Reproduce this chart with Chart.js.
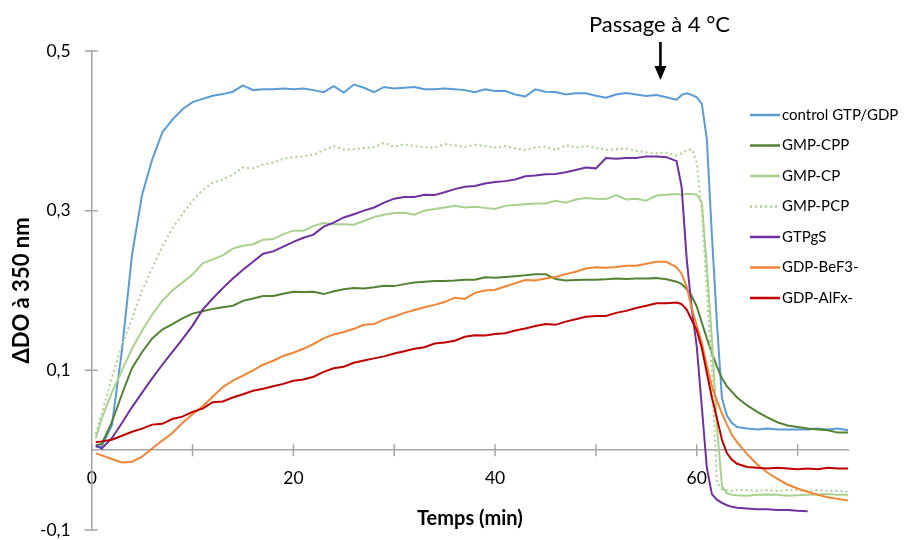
<!DOCTYPE html>
<html>
<head>
<meta charset="utf-8">
<script src="https://cdn.jsdelivr.net/npm/chart.js@4.4.0/dist/chart.umd.min.js"></script>
<style>
  html, body { margin: 0; padding: 0; background: #fff; }
</style>
</head>
<body>
<canvas id="chart" width="913" height="540"></canvas>
<script>
// Time points (min)
const times = [
  0.4, 1, 2, 3, 4, 5, 6, 7, 8, 9,
  10, 11, 12, 13, 14, 15, 16, 17, 18, 19,
  20, 21, 22, 23, 24, 25, 26, 27, 28, 29,
  30, 31, 32, 33, 34, 35, 36, 37, 38, 39,
  40, 41, 42, 43, 44, 45, 46, 47, 48, 49,
  50, 51, 52, 53, 54, 55, 56, 57, 58,
  58.5, 59, 59.5, 60, 60.5, 61, 61.5, 62, 62.5, 63, 63.5, 64,
  65, 66, 67, 68, 69, 70, 71, 72, 73, 74, 75
];

// ΔDO values per series
const controlGtpGdp = [
  0.004, 0.005, 0.031, 0.125, 0.245, 0.32, 0.364, 0.398, 0.414, 0.427,
  0.436, 0.44, 0.444, 0.446, 0.449, 0.457, 0.451, 0.452, 0.452, 0.453,
  0.452, 0.453, 0.451, 0.4485, 0.456, 0.448, 0.458, 0.454, 0.4485, 0.455,
  0.453, 0.454, 0.455, 0.452, 0.452, 0.453, 0.452, 0.451, 0.4485, 0.452,
  0.45, 0.45, 0.4456, 0.443, 0.452, 0.449, 0.4485, 0.4456, 0.447, 0.447,
  0.444, 0.4415, 0.4456, 0.4475, 0.4456, 0.4435, 0.445, 0.442, 0.439,
  0.445, 0.447, 0.445, 0.442, 0.434, 0.39, 0.27, 0.16, 0.065, 0.043, 0.034, 0.029,
  0.027, 0.026, 0.027, 0.026, 0.026, 0.026, 0.026, 0.027, 0.026, 0.027, 0.025
];
const gmpCpp = [
  0.006, 0.008, 0.035, 0.07, 0.103, 0.123, 0.14, 0.151, 0.158, 0.165,
  0.171, 0.174, 0.177, 0.179, 0.181, 0.187, 0.19, 0.193, 0.193, 0.196,
  0.1985, 0.198, 0.1985, 0.1955, 0.199, 0.2015, 0.203, 0.2025, 0.204, 0.206,
  0.2055, 0.208, 0.21, 0.211, 0.212, 0.212, 0.2125, 0.2135, 0.2135, 0.2165,
  0.216, 0.217, 0.218, 0.219, 0.2205, 0.2205, 0.2145, 0.2125, 0.213, 0.2135,
  0.2135, 0.214, 0.215, 0.2145, 0.215, 0.215, 0.2155, 0.214, 0.211,
  0.208, 0.202, 0.193, 0.18, 0.16, 0.14, 0.122, 0.105, 0.09, 0.08, 0.073, 0.066,
  0.056, 0.048, 0.041, 0.035, 0.031, 0.029, 0.027, 0.026, 0.025, 0.022, 0.022
];
const gmpCp = [
  0.015, 0.04, 0.072, 0.1, 0.127, 0.15, 0.17, 0.187, 0.2, 0.21,
  0.22, 0.234, 0.239, 0.244, 0.2525, 0.256, 0.258, 0.2635, 0.2644, 0.2706,
  0.275, 0.275, 0.281, 0.2844, 0.283, 0.283, 0.2825, 0.287, 0.292, 0.295,
  0.297, 0.2975, 0.295, 0.3, 0.302, 0.304, 0.306, 0.304, 0.305, 0.3035,
  0.302, 0.306, 0.307, 0.308, 0.309, 0.309, 0.3125, 0.31, 0.314, 0.316,
  0.315, 0.3145, 0.3195, 0.314, 0.315, 0.3125, 0.319, 0.32, 0.321,
  0.32, 0.321, 0.321, 0.32, 0.31, 0.23, 0.14, 0.03, -0.045, -0.054, -0.056, -0.0565,
  -0.057, -0.056, -0.0555, -0.056, -0.057, -0.0565, -0.056, -0.0555, -0.055, -0.056, -0.056
];
const gmpPcp = [
  0.02, 0.046, 0.09, 0.132, 0.165, 0.2, 0.228, 0.255, 0.278, 0.296,
  0.312, 0.326, 0.335, 0.339, 0.345, 0.354, 0.353, 0.358, 0.36, 0.365,
  0.367, 0.368, 0.37, 0.376, 0.381, 0.3765, 0.377, 0.3785, 0.3795, 0.385,
  0.38, 0.383, 0.381, 0.379, 0.379, 0.3835, 0.382, 0.38, 0.3825, 0.381,
  0.379, 0.381, 0.378, 0.376, 0.379, 0.38, 0.376, 0.382, 0.379, 0.381,
  0.379, 0.376, 0.377, 0.3777, 0.375, 0.373, 0.372, 0.3725, 0.369,
  0.372, 0.375, 0.377, 0.36, 0.3, 0.2, 0.1, -0.04, -0.049, -0.05, -0.051, -0.05,
  -0.05, -0.051, -0.05, -0.051, -0.05, -0.05, -0.051, -0.05, -0.051, -0.051, -0.052
];
const gtpgs = [
  0.006, 0.002, 0.015, 0.034, 0.054, 0.072, 0.09, 0.107, 0.123, 0.139,
  0.156, 0.176, 0.19, 0.203, 0.215, 0.226, 0.236, 0.246, 0.249, 0.255,
  0.261, 0.266, 0.27, 0.28, 0.285, 0.2915, 0.2956, 0.3, 0.304, 0.31,
  0.315, 0.317, 0.317, 0.32, 0.3195, 0.323, 0.327, 0.33, 0.331, 0.334,
  0.336, 0.337, 0.339, 0.343, 0.344, 0.3456, 0.346, 0.348, 0.351, 0.354,
  0.353, 0.366, 0.365, 0.366, 0.366, 0.368, 0.368, 0.367, 0.362,
  0.33, 0.24, 0.178, 0.13, 0.055, -0.022, -0.055, -0.062, -0.066, -0.069, -0.071, -0.072,
  -0.073, -0.074, -0.074, -0.075, -0.075, -0.076, -0.0765, null, null, null, null
];
const gdpBef3 = [
  -0.004, -0.0065, -0.011, -0.0155, -0.0145, -0.008, 0.002, 0.012, 0.0215, 0.034,
  0.045, 0.055, 0.067, 0.079, 0.087, 0.0935, 0.1, 0.107, 0.112, 0.118,
  0.122, 0.127, 0.133, 0.14, 0.145, 0.148, 0.152, 0.157, 0.158, 0.1635,
  0.1675, 0.172, 0.1755, 0.179, 0.182, 0.1855, 0.191, 0.1895, 0.197, 0.2,
  0.201, 0.205, 0.209, 0.213, 0.2125, 0.215, 0.217, 0.2205, 0.2235, 0.2275,
  0.229, 0.2285, 0.2295, 0.231, 0.231, 0.2335, 0.236, 0.236, 0.229,
  0.221, 0.205, 0.178, 0.156, 0.135, 0.106, 0.08, 0.062, 0.046, 0.032, 0.019, 0.01,
  -0.005, -0.018, -0.028, -0.036, -0.043, -0.048, -0.052, -0.056, -0.059, -0.061, -0.063
];
const gdpAlfx = [
  0.01, 0.011, 0.013, 0.018, 0.023, 0.027, 0.032, 0.033, 0.039, 0.042,
  0.048, 0.052, 0.06, 0.061, 0.066, 0.07, 0.0745, 0.077, 0.08, 0.083,
  0.087, 0.0885, 0.092, 0.098, 0.1025, 0.1045, 0.1095, 0.1123, 0.115, 0.1175,
  0.121, 0.124, 0.127, 0.129, 0.1335, 0.135, 0.137, 0.142, 0.144, 0.1435,
  0.1456, 0.1465, 0.1498, 0.1525, 0.1555, 0.158, 0.157, 0.161, 0.164, 0.167,
  0.168, 0.168, 0.172, 0.1745, 0.178, 0.181, 0.184, 0.184, 0.185,
  0.183, 0.176, 0.163, 0.15, 0.128, 0.097, 0.066, 0.04, 0.013, -0.004, -0.012, -0.017,
  -0.021, -0.022, -0.023, -0.022, -0.023, -0.024, -0.023, -0.024, -0.022, -0.023, -0.023
];

const seriesNames = ['control GTP/GDP', 'GMP-CPP', 'GMP-CP', 'GMP-PCP', 'GTPgS', 'GDP-BeF3-', 'GDP-AlFx-'];
const seriesValues = [controlGtpGdp, gmpCpp, gmpCp, gmpPcp, gtpgs, gdpBef3, gdpAlfx];
const seriesColors = ['#5B9BD5', '#548235', '#A9D18E', '#A9D18E', '#7030A0', '#F28534', '#C00000'];
const dottedSeries = ['GMP-PCP'];

const xTickValues = [0, 10, 20, 30, 40, 50, 60, 70];
const xLabelValues = [0, 20, 40, 60];
const yTickValues = [-0.1, 0.1, 0.3, 0.5];
const coolingTime = 56.4;
const coolingNote = 'Passage à 4 °C';

const FONT = 'Lato';
const AXIS_COLOR = '#A6A6A6';

const datasets = seriesNames.map((name, i) => ({
    label: name,
    data: times.map((t, j) => ({ x: t, y: seriesValues[i][j] })),
    borderColor: seriesColors[i],
    borderWidth: 2,
    borderDash: dottedSeries.includes(name) ? [2, 3] : [],
    pointRadius: 0,
    tension: 0,
    fill: false,
    order: seriesNames.length - i
}));

// tick marks crossing the axes, note with arrow, legend on the right
const decorPlugin = {
    id: 'decor',
    beforeDatasetsDraw(chart) {
        const { ctx, scales: { x, y } } = chart;
        const x0 = x.getPixelForValue(0);
        const y0 = y.getPixelForValue(0);
        ctx.save();
        ctx.strokeStyle = AXIS_COLOR;
        ctx.lineWidth = 1.5;
        ctx.beginPath();
        xTickValues.forEach(v => {
            const px = x.getPixelForValue(v);
            ctx.moveTo(px, y0 - 6);
            ctx.lineTo(px, y0 + 6);
        });
        yTickValues.forEach(v => {
            const py = y.getPixelForValue(v);
            ctx.moveTo(x0 - 7, py);
            ctx.lineTo(x0 + 6, py);
        });
        ctx.stroke();
        ctx.restore();
    },
    afterDraw(chart) {
        const { ctx, scales: { x } } = chart;
        ctx.save();
        // note + arrow
        const ax = x.getPixelForValue(coolingTime);
        ctx.fillStyle = '#000';
        ctx.font = `22px ${FONT}`;
        ctx.textAlign = 'center';
        ctx.textBaseline = 'alphabetic';
        ctx.fillText(coolingNote, ax - 1, 32);
        ctx.strokeStyle = '#000';
        ctx.lineWidth = 2.6;
        ctx.beginPath();
        ctx.moveTo(ax, 42);
        ctx.lineTo(ax, 70);
        ctx.stroke();
        ctx.beginPath();
        ctx.moveTo(ax - 6, 66);
        ctx.lineTo(ax + 6, 66);
        ctx.lineTo(ax, 80);
        ctx.closePath();
        ctx.fill();

        // legend
        const legendLeft = 750, legendTop = 115, legendGap = 30.5;
        ctx.font = `15px ${FONT}`;
        ctx.textAlign = 'left';
        ctx.textBaseline = 'middle';
        chart.data.datasets.forEach((ds, i) => {
            const yy = legendTop + i * legendGap;
            ctx.strokeStyle = ds.borderColor;
            ctx.lineWidth = 2.5;
            ctx.setLineDash(ds.borderDash);
            ctx.beginPath();
            ctx.moveTo(legendLeft, yy);
            ctx.lineTo(legendLeft + 30, yy);
            ctx.stroke();
            ctx.setLineDash([]);
            ctx.fillStyle = '#000';
            ctx.fillText(ds.label, legendLeft + 32, yy);
        });
        ctx.restore();
    }
};

new Chart(document.getElementById('chart'), {
    type: 'line',
    data: { datasets: datasets },
    options: {
        responsive: false,
        animation: false,
        layout: { padding: { top: 51, right: 65, bottom: 10, left: 0 } },
        plugins: {
            legend: { display: false },
            tooltip: { enabled: false }
        },
        scales: {
            x: {
                type: 'linear',
                position: { y: 0 },
                min: 0,
                max: 75,
                afterBuildTicks: scale => { scale.ticks = xTickValues.map(v => ({ value: v })); },
                grid: { display: false, drawTicks: false },
                border: { display: true, color: AXIS_COLOR, width: 1.5 },
                ticks: {
                    padding: 18,
                    autoSkip: false,
                    maxRotation: 0,
                    color: '#000',
                    font: { family: FONT, size: 17.5 },
                    callback: v => xLabelValues.includes(v) ? String(v) : ''
                },
                title: {
                    display: true,
                    text: 'Temps (min)',
                    color: '#000',
                    font: { family: FONT, size: 20, weight: 'bold' },
                    padding: { top: -1, bottom: 0 }
                }
            },
            y: {
                type: 'linear',
                min: -0.1,
                max: 0.5,
                afterBuildTicks: scale => { scale.ticks = yTickValues.map(v => ({ value: v })); },
                afterFit: scale => {
                    scale.width = 91.7;
                    scale.paddingTop = 0;
                    scale.paddingBottom = 0;
                },
                grid: { display: false, drawTicks: false },
                border: { display: true, color: AXIS_COLOR, width: 1.5 },
                ticks: {
                    padding: 21,
                    color: '#000',
                    font: { family: FONT, size: 17.5 },
                    callback: v => v.toFixed(1).replace('.', ',')
                },
                title: {
                    display: true,
                    text: 'ΔDO à 350 nm',
                    color: '#000',
                    font: { family: FONT, size: 22, weight: 'bold' },
                    padding: { top: 9, bottom: 0 }
                }
            }
        }
    },
    plugins: [decorPlugin]
});
</script>
</body>
</html>
